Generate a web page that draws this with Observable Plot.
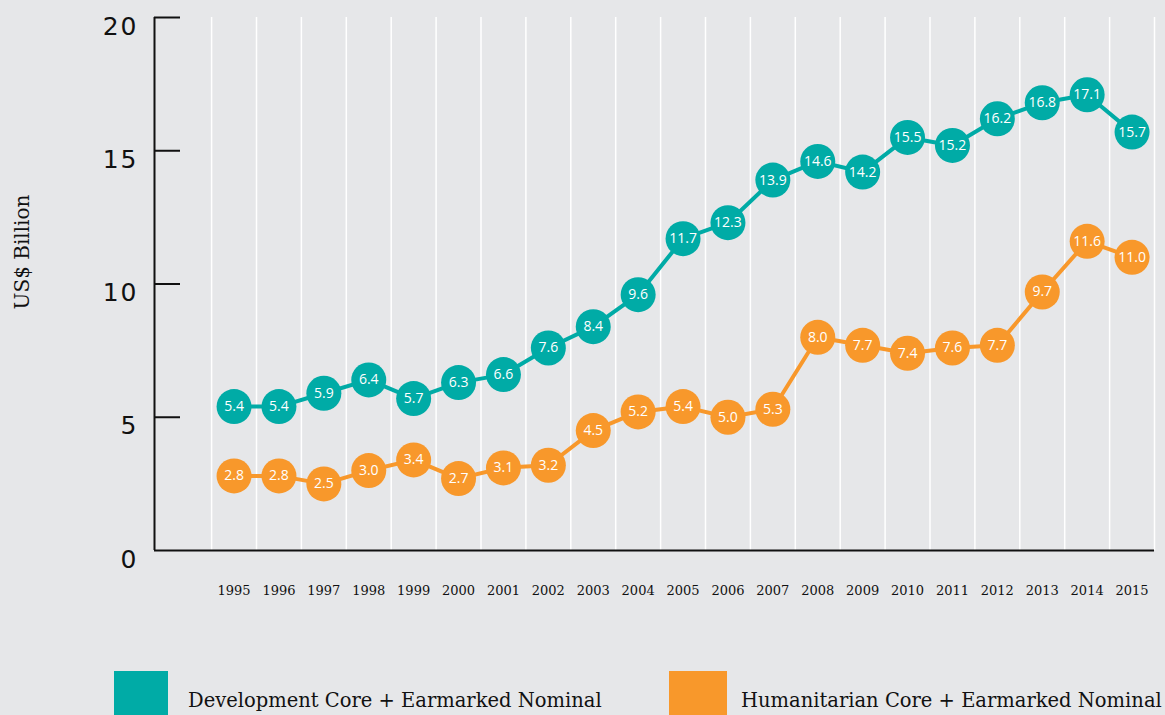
<!DOCTYPE html>
<html>
<head>
<meta charset="utf-8">
<script src="https://cdn.jsdelivr.net/npm/d3@7"></script>
<script src="https://cdn.jsdelivr.net/npm/@observablehq/plot@0.6"></script>
<style>
  html, body { margin: 0; padding: 0; background: #e6e7e9; overflow: hidden; }
  #wrap { position: relative; width: 1165px; height: 715px; }
  .legend { position: absolute; top: 671px; left: 0; width: 1165px; height: 44px; }
  .sw { position: absolute; top: 0; height: 56px; }
  .lab { position: absolute; top: 18px; white-space: nowrap; font-family: "DejaVu Serif", serif; font-size: 19.5px; color: #111; }
  .ytick text { letter-spacing: 2px; }
</style>
</head>
<body>
<div id="wrap">
  <div id="chart"></div>
  <div class="legend" id="legend"></div>
</div>
<script>
const years = [1995,1996,1997,1998,1999,2000,2001,2002,2003,2004,2005,2006,2007,2008,2009,2010,2011,2012,2013,2014,2015];
const development = [5.4,5.4,5.9,6.4,5.7,6.3,6.6,7.6,8.4,9.6,11.7,12.3,13.9,14.6,14.2,15.5,15.2,16.2,16.8,17.1,15.7];
const humanitarian = [2.8,2.8,2.5,3.0,3.4,2.7,3.1,3.2,4.5,5.2,5.4,5.0,5.3,8.0,7.7,7.4,7.6,7.7,9.7,11.6,11.0];
const seriesNames = ["Development Core + Earmarked Nominal", "Humanitarian Core + Earmarked Nominal"];
const seriesColors = ["#00aba6", "#f8982b"];
const yTicks = [0, 5, 10, 15, 20];
const yLabel = "US$ Billion";

const data = [
  ...years.map((yr, i) => ({year: yr, value: development[i], series: seriesNames[0]})),
  ...years.map((yr, i) => ({year: yr, value: humanitarian[i], series: seriesNames[1]}))
];

const W = 1165, H = 620, mL = 154, mR = 11, mT = 17, mB = 70;
const pxPerYear = 44.9;
const xMax = years[years.length - 1] + 0.5;
const xMin = xMax - (W - mL - mR) / pxPerYear;
const gridX = years.map(y => y - 0.5).concat([xMax]);
const tickLen = 26 / pxPerYear;

const chart = Plot.plot({
  width: W, height: H,
  marginLeft: mL, marginRight: mR, marginTop: mT, marginBottom: mB,
  style: {background: "transparent", overflow: "visible"},
  x: {domain: [xMin, xMax], axis: null},
  y: {domain: [0, 20], axis: null},
  color: {domain: seriesNames, range: seriesColors},
  marks: [
    Plot.ruleX(gridX, {stroke: "#ffffff", strokeWidth: 1.5}),
    Plot.ruleX([xMin], {stroke: "#111", strokeWidth: 2}),
    Plot.ruleY([0], {stroke: "#111", strokeWidth: 2}),
    Plot.ruleY(yTicks.filter(d => d > 0), {x1: xMin, x2: xMin + tickLen, stroke: "#111", strokeWidth: 2}),
    Plot.axisY({ticks: yTicks, tickSize: 0, tickPadding: 16, fontSize: 25, fontFamily: "DejaVu Sans", dy: 9, tickFormat: d => String(d), label: null, color: "#111", className: "ytick"}),
    Plot.axisX({ticks: years, tickSize: 0, tickPadding: 35, fontSize: 13, fontFamily: "DejaVu Serif", tickFormat: d => String(d), label: null, color: "#111"}),
    Plot.text([yLabel], {frameAnchor: "left", textAnchor: "middle", rotate: -90, dx: -132, dy: -32, fontSize: 20, fontFamily: "DejaVu Serif", fill: "#111"}),
    Plot.line(data, {x: "year", y: "value", z: "series", stroke: "series", strokeWidth: 4}),
    Plot.dot(data, {x: "year", y: "value", fill: "series", r: 17.5, stroke: null}),
    Plot.text(data, {x: "year", y: "value", text: d => d.value.toFixed(1), fill: "white", fontSize: 14, fontFamily: "Open Sans", fontWeight: 400})
  ]
});
document.getElementById("chart").appendChild(chart);

const legendPos = [{sw: 114, w: 54, lab: 188}, {sw: 669, w: 58, lab: 741}];
const legend = document.getElementById("legend");
seriesNames.forEach((name, i) => {
  const sw = document.createElement("div");
  sw.className = "sw"; sw.style.left = legendPos[i].sw + "px"; sw.style.width = legendPos[i].w + "px"; sw.style.background = seriesColors[i];
  const lab = document.createElement("div");
  lab.className = "lab"; lab.style.left = legendPos[i].lab + "px"; lab.textContent = name;
  legend.appendChild(sw); legend.appendChild(lab);
});
</script>
</body>
</html>
